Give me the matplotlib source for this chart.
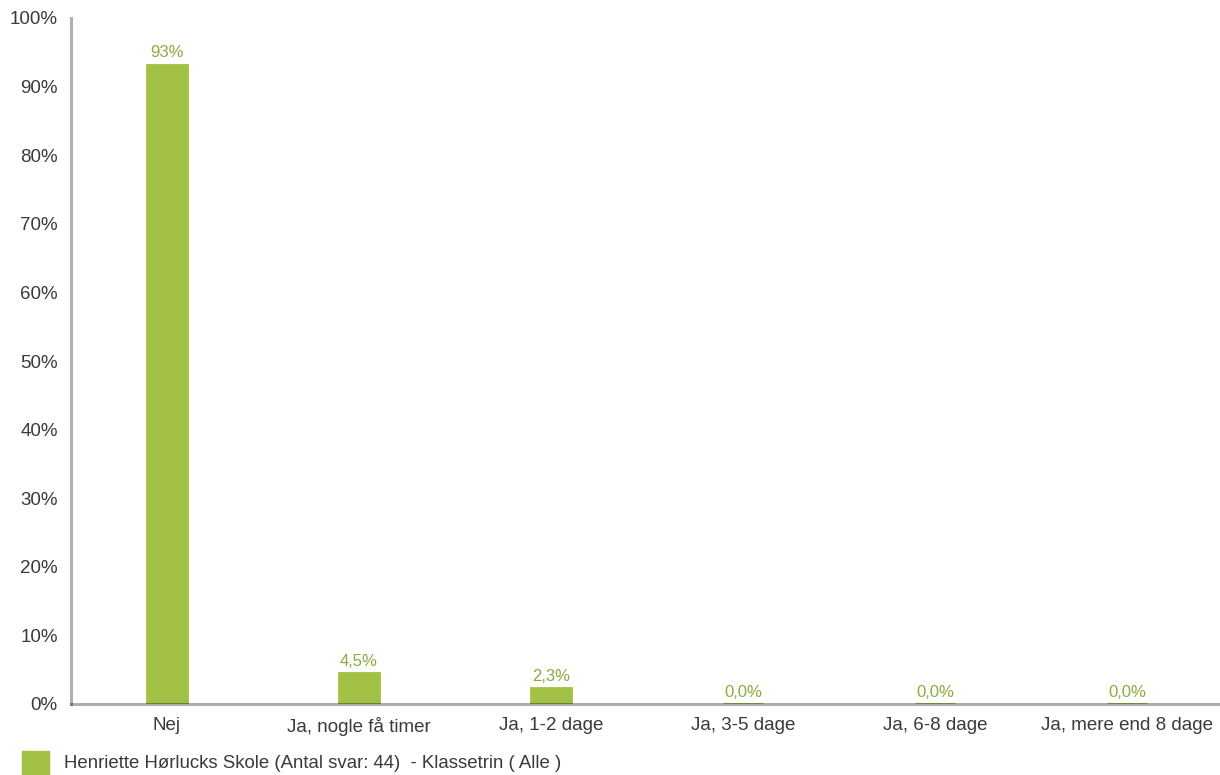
import matplotlib
matplotlib.use("Agg")
import matplotlib.pyplot as plt
from matplotlib.patches import Rectangle

categories = ["Nej", "Ja, nogle få timer", "Ja, 1-2 dage", "Ja, 3-5 dage", "Ja, 6-8 dage", "Ja, mere end 8 dage"]
values = [93.2, 4.5, 2.3, 0.0, 0.0, 0.0]
value_labels = ["93%", "4,5%", "2,3%", "0,0%", "0,0%", "0,0%"]
yticks = [0, 10, 20, 30, 40, 50, 60, 70, 80, 90, 100]
ytick_labels = [f"{v}%" for v in yticks]
legend_label = "Henriette Hørlucks Skole (Antal svar: 44)  - Klassetrin ( Alle )"

plt.rcParams['font.family'] = ['Liberation Sans', 'DejaVu Sans']

W, H = 1220, 775
fig = plt.figure(figsize=(W / 100, H / 100), dpi=100)
ax = fig.add_axes([71 / W, 1 - 704 / H, 1152 / W, 686 / H])

bar_color = "#a2c043"
label_color = "#8caa3c"
text_color = "#3a3a3a"

x = list(range(len(categories)))
ax.bar(x, values, width=0.21, color=bar_color, edgecolor=bar_color,
       linewidth=2.0, zorder=2)
for xi, v, lab in zip(x, values, value_labels):
    ax.annotate(lab, (xi, v), xytext=(0, 3), textcoords="offset points",
                ha="center", va="bottom", fontsize=12, color=label_color)

ax.set_xlim(-0.5, 5.5)
ax.set_ylim(0, 100)
ax.set_yticks(yticks)
ax.set_yticklabels(ytick_labels)
ax.set_xticks(x)
ax.set_xticklabels(categories)
ax.tick_params(axis="both", length=0, labelsize=13.5, colors=text_color)
ax.tick_params(axis="y", pad=9.5)
ax.tick_params(axis="x", pad=9)

for s in ["top", "right"]:
    ax.spines[s].set_visible(False)
ax.spines["left"].set_color("#b0b0b0")
ax.spines["left"].set_linewidth(2.2)
ax.spines["bottom"].set_color((0, 0, 0, 0.32))
ax.spines["bottom"].set_linewidth(2.2)
ax.spines["bottom"].set_zorder(5)

# legend
fig.patches.append(Rectangle((22 / W, 1 - 775 / H), 27 / W, 24 / H,
                             transform=fig.transFigure, color=bar_color))
fig.text(64 / W, 1 - 763 / H, legend_label, fontsize=13.4, color=text_color,
         va="center", ha="left")

fig.savefig("out.png", dpi=100)
